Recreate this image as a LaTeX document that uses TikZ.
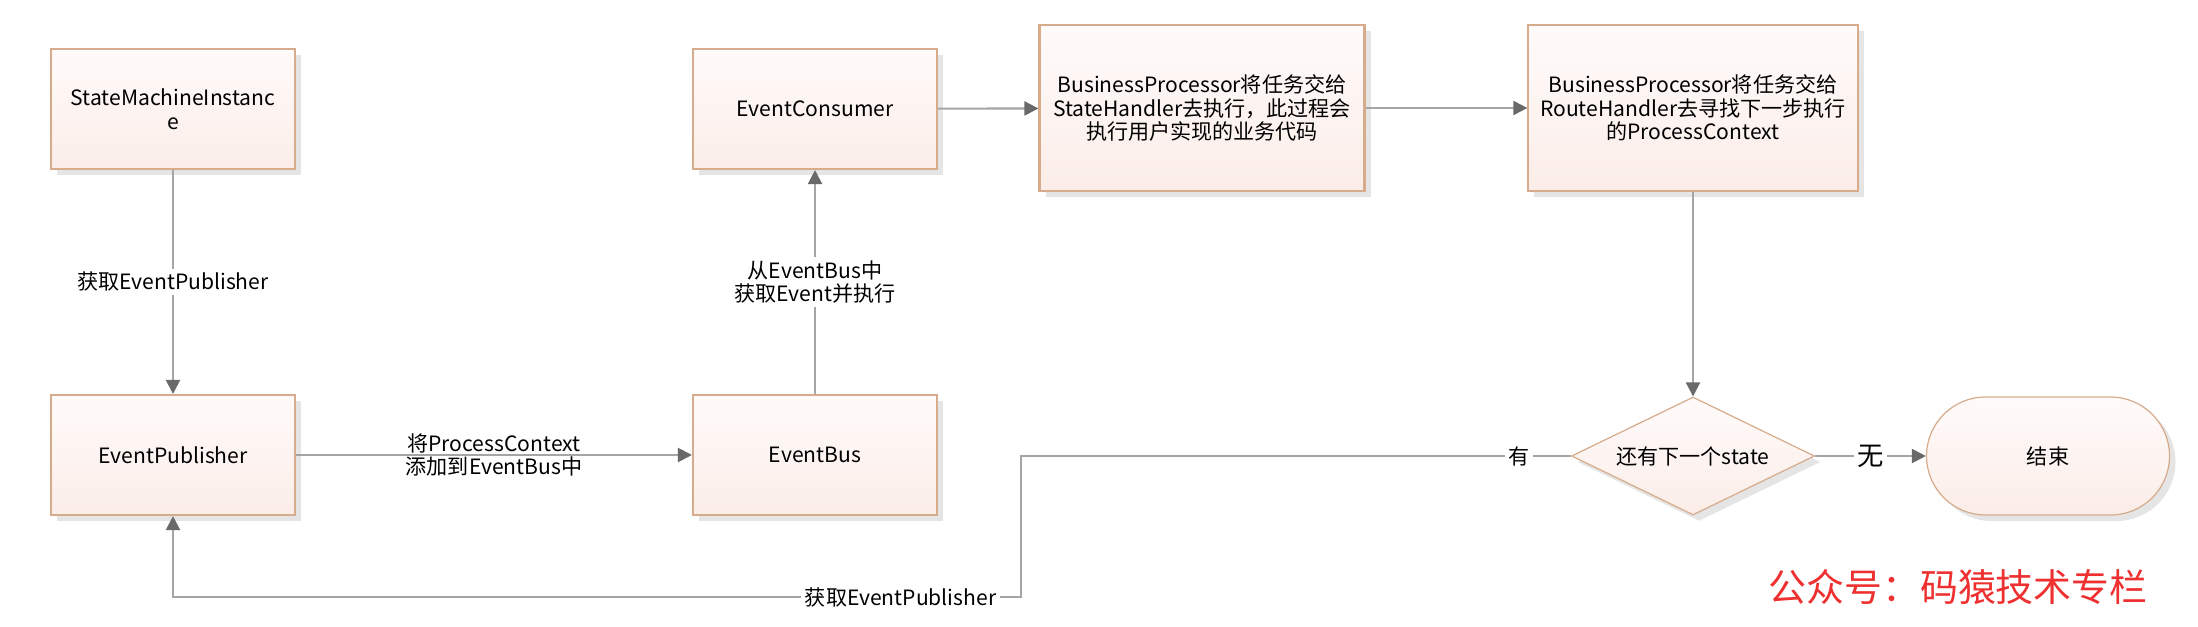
\documentclass[tikz,border=0pt]{standalone}
\usepackage{fontspec}
\setmainfont{Noto Sans CJK SC}
\usepackage{tikz}
\usetikzlibrary{arrows.meta,shapes.geometric,shadows,positioning}
\definecolor{boxline}{RGB}{214,172,140}
\definecolor{boxtop}{RGB}{255,251,250}
\definecolor{boxbot}{RGB}{251,237,232}
\definecolor{wiregray}{RGB}{165,165,165}
\definecolor{tipgray}{RGB}{105,105,105}
\definecolor{markred}{RGB}{238,48,48}
\newcommand\flowfont{\fontsize{6}{6.7}\selectfont}
\tikzset{
    flow box/.style={
        draw=boxline,line width=.6pt,
        top color=boxtop,bottom color=boxbot,
        drop shadow={shadow xshift=.6mm,shadow yshift=-.6mm,fill=black!10,opacity=1},
        minimum width=2.44cm,minimum height=1.2cm,
        align=center,font=\flowfont
    },
    big box/.style={flow box,minimum width=3.25cm,minimum height=1.66cm},
    decision/.style={flow box,diamond,aspect=2.06,line width=.35pt,inner sep=0pt,
        minimum width=2.43cm,minimum height=1.18cm},
    terminal/.style={flow box,line width=.35pt,rounded corners=.59cm,
        minimum width=2.43cm,minimum height=1.18cm},
    wire/.style={draw=wiregray,line width=.6pt,->},
    wire label/.style={fill=white,inner sep=1pt,align=center,font=\flowfont},
    >={Triangle[length=1.4mm,width=1.4mm,color=tipgray]}
}
\begin{document}
\begin{tikzpicture}
\useasboundingbox (0,0) rectangle (21.98,6.26);
\node[flow box] (smi) at (1.73,5.17) {StateMachineInstanc\\e};
\node[flow box] (ep) at (1.73,1.71) {EventPublisher};
\node[flow box] (eb) at (8.15,1.71) {EventBus};
\node[flow box] (ec) at (8.15,5.17) {EventConsumer};
\node[big box] (bp_state) at (12.02,5.18) {BusinessProcessor将任务交给\\StateHandler去执行，此过程会\\执行用户实现的业务代码};
\node[big box] (bp_route) at (16.93,5.18) {BusinessProcessor将任务交给\\RouteHandler去寻找下一步执行\\的ProcessContext};
\node[decision] (next) at (16.93,1.70) {还有下一个state};
\node[terminal] (end) at (20.48,1.70) {结束};
\coordinate (turn) at (10.21,1.70);
\coordinate (low) at (10.21,0.29);

\draw[wire] (smi) -- node[wire label] {获取EventPublisher} (ep);
\draw[wire] (ep) -- node[align=center,font=\flowfont] {将ProcessContext\\添加到EventBus中} (eb);
\draw[wire] (eb) -- node[wire label] {从EventBus中\\获取Event并执行} (ec);
\draw[wire] (ec) -- (bp_state);
\draw[wire] (bp_state) -- (bp_route);
\draw[wire] (bp_route) -- (next);
\draw[wire] (next) -- node[wire label,font=\fontsize{7.5}{8}\selectfont] {无} (end);
\draw[wire] (next) -- node[wire label,pos=.095] {有} (turn) -- (low)
    -| node[wire label,pos=.071] {获取EventPublisher} (ep);

\node[text=markred,font=\fontsize{10.8}{12}\selectfont] (mark) at (19.58,0.39) {公众号：码猿技术专栏};
\end{tikzpicture}
\end{document}
